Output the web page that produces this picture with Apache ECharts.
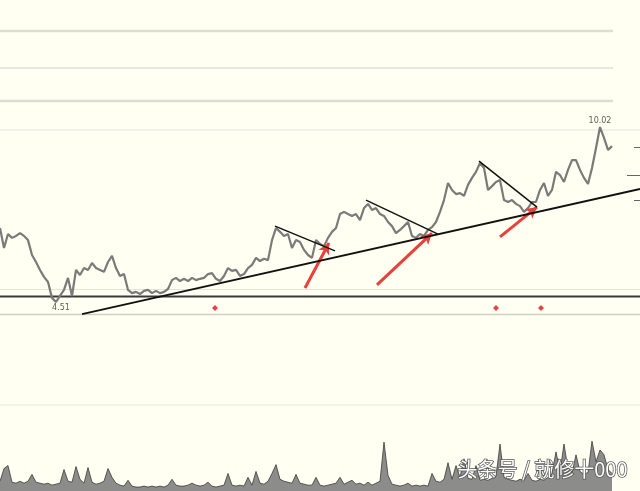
<!DOCTYPE html>
<html><head><meta charset="utf-8">
<script src="https://cdn.jsdelivr.net/npm/echarts@6/dist/echarts.min.js"></script>
<style>html,body{margin:0;padding:0;background:#fffff2;}#c{width:640px;height:491px;}</style>
</head><body><div id="c"></div>
<script>
// Daily closing prices (one value per bar index)
const prices = [6.84,6.21,6.65,6.53,6.59,6.68,6.59,6.46,5.99,5.77,5.52,5.30,5.14,4.64,4.51,4.70,4.89,5.27,4.70,5.52,
5.36,5.58,5.52,5.74,5.58,5.52,5.46,5.77,5.96,5.58,5.33,5.39,4.89,4.79,4.83,4.76,4.86,4.89,4.79,4.86,
4.79,4.83,4.92,5.20,5.27,5.17,5.24,5.17,5.27,5.20,5.24,5.27,5.39,5.42,5.24,5.17,5.33,5.58,5.49,5.52,
5.33,5.39,5.58,5.68,5.90,5.80,5.87,5.83,6.46,6.84,6.72,6.59,6.65,6.21,6.46,6.40,6.15,5.99,5.90,6.46,
6.34,6.27,6.53,6.72,6.84,7.28,7.35,7.28,7.22,7.28,7.09,7.47,7.60,7.41,7.47,7.28,7.22,7.03,6.90,6.68,
6.78,6.90,7.03,6.59,6.53,6.65,6.59,6.78,6.87,7.03,7.35,7.72,8.26,8.04,7.91,7.94,7.85,8.20,8.42,8.61,
8.89,8.73,8.04,8.16,8.29,8.35,7.72,7.66,7.72,7.60,7.53,7.35,7.47,7.66,7.66,8.04,8.26,7.85,8.04,8.61,
8.51,8.29,8.67,8.98,8.98,8.67,8.42,8.23,8.73,9.36,10.02,9.68,9.30,9.42];
// Volume per bar index
const volumes = [10,23,26,9,8,10,8,10,17,9,8,7,8,6,7,8,22,10,9,25,
12,8,24,9,7,8,10,23,14,8,6,5,11,5,4,4,5,4,5,4,
5,4,6,12,6,5,5,6,8,6,5,6,9,5,4,5,6,18,6,5,
6,5,14,6,20,8,7,10,18,27,12,10,9,8,17,8,7,6,6,14,
6,5,6,7,8,14,7,9,11,7,8,6,9,6,8,10,50,16,7,6,
5,6,8,5,6,5,6,5,18,10,9,12,29,12,26,14,33,13,12,26,
11,12,11,13,15,48,14,12,11,10,12,11,18,11,10,12,11,14,18,40,
20,48,22,18,37,20,17,19,51,30,42,37,22,18];
// Trend lines [barIndex, price]
const supportLine = [[20.5,4.13],[160,8.07]];
const resist1 = [[68.75,6.90],[83.75,6.12]];
const resist2 = [[91.5,7.72],[109.5,6.65]];
const resist3 = [[119.75,8.95],[134.25,7.50]];
// Red arrows [from, to]
const arrows = [[[76.25,4.95],[82.25,6.37]],[[94.25,5.05],[108,6.68]],[[125,6.56],[134.25,7.50]]];
// Red signal markers
const signals = [[53.75,4.32],[124,4.32],[135.25,4.32]];
// Extreme value labels
const extremes = [{pos:[150,10.02],text:'10.02',where:'top'},{pos:[15.25,4.51],text:'4.51',where:'bottom'}];

const chart = echarts.init(document.getElementById('c'));
const hl = (y,x1,x2,w,c)=>({type:'line',silent:true,z:0,shape:{x1:x1,y1:y,x2:x2,y2:y},style:{stroke:c,lineWidth:w}});
const trend = (d,w)=>({type:'line',data:d,symbol:'none',silent:true,z:5,lineStyle:{color:'#111',width:w}});
chart.setOption({
  animation:false,
  backgroundColor:'#fffff2',
  title:{text:'头条号 / 就修十000',right:6,bottom:5,textStyle:{fontSize:20,fontWeight:'normal',color:'#fff',textBorderColor:'#555',textBorderWidth:1.5,fontFamily:'Noto Sans CJK SC'}},
  graphic:[
    hl(31,0,613,2.5,'#dddcd2'),hl(68,0,613,1.5,'#e2e1d8'),hl(101,0,613,2.5,'#dddcd2'),hl(130,0,640,1,'#e6e5d8'),
    hl(289.5,0,640,1,'#e4e3d8'),hl(296.5,0,640,2,'#3a3a3a'),hl(314.5,0,640,1.5,'#cfcfc6'),hl(405,0,640,1,'#e8e7dc'),
    hl(147.5,634,640,1,'#666'),hl(175.5,627,640,1,'#666'),hl(200.5,634,640,1,'#666')
  ],
  grid:[{left:0,right:0,top:0,height:320},{left:0,right:0,top:405,height:88}],
  xAxis:[{type:'value',gridIndex:0,min:0,max:160,show:false},{type:'value',gridIndex:1,min:0,max:160,show:false}],
  yAxis:[{type:'value',gridIndex:0,min:3.943,max:14.023,show:false},{type:'value',gridIndex:1,min:0,max:88,show:false}],
  series:[
    {type:'line',data:prices.map((p,i)=>[i,p]),symbol:'none',z:3,lineStyle:{color:'#7a7a78',width:2.2},
     markLine:{silent:true,symbol:['none','arrow'],symbolSize:[9,11],label:{show:false},
       lineStyle:{color:'#e8403a',width:3,type:'solid'},
       data:arrows.map(a=>[{coord:a[0]},{coord:a[1]}])}},
    trend(supportLine,1.8),trend(resist1,1.5),trend(resist2,1.5),trend(resist3,1.5),
    {type:'scatter',data:signals,symbol:'diamond',symbolSize:6,itemStyle:{color:'#e0141e'},silent:true},
    {type:'scatter',data:extremes.map(e=>({value:e.pos,label:{show:true,formatter:e.text,position:e.where,distance:2}})),symbolSize:0,silent:true,
     label:{fontSize:8,color:'#333',fontFamily:'DejaVu Sans'}},
    {type:'line',xAxisIndex:1,yAxisIndex:1,data:volumes.map((v,i)=>[i,v]),symbol:'none',
     lineStyle:{color:'#3a3a3a',width:0.8},areaStyle:{color:'#8c8c8a',opacity:1}}
  ]
});
</script></body></html>
